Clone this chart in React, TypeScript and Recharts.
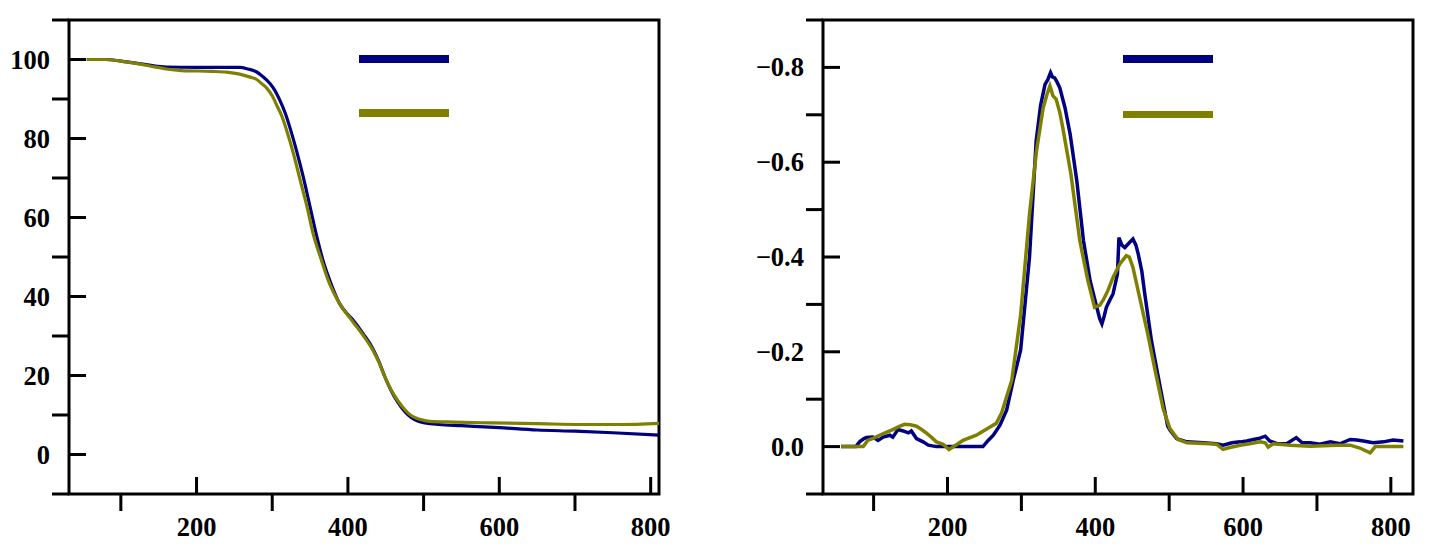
import React from 'react';
import { LineChart, Line, XAxis, YAxis, ReferenceArea, Legend } from 'recharts';

// TGA: temperature (°C) vs remaining mass (%)
const tgaBlue: [number, number][] = [
  [55, 100], [80, 100], [100, 99.6], [120, 99.1], [140, 98.5], [160, 98.1], [200, 98], [240, 98],
  [257, 98], [268, 97.6], [279, 96.9], [288, 95.6], [297, 93.9], [304, 92], [310, 89.7], [317, 86.5],
  [323, 83], [332, 77], [341, 70.3], [350, 62.7], [359, 55.1], [367, 49.2], [376, 44.1], [389, 38.2],
  [400, 35.4], [407, 34], [420, 30.6], [433, 26.8], [441, 23.5], [449, 19.6], [457, 16.2], [466, 13.2],
  [475, 10.9], [484, 9.3], [493, 8.4], [502, 8], [520, 7.6], [550, 7.3], [600, 6.8], [650, 6.2],
  [700, 5.9], [750, 5.5], [811, 4.9],
];

const tgaOlive: [number, number][] = [
  [55, 100], [80, 100], [100, 99.6], [120, 99], [140, 98.3], [160, 97.6], [180, 97.2], [220, 97],
  [240, 96.8], [257, 96.3], [270, 95.6], [279, 95], [286, 93.9], [293, 92.7], [300, 90.8], [306, 88.4],
  [313, 85.5], [319, 82.1], [328, 76.2], [337, 69.4], [346, 62.7], [354, 55.9], [365, 49.2], [374, 44.1],
  [389, 38.2], [407, 33.5], [420, 30.2], [433, 26.4], [441, 23.3], [449, 19.6], [457, 16.4], [466, 13.6],
  [475, 11.4], [484, 9.8], [495, 8.9], [508, 8.4], [540, 8.2], [590, 8], [650, 7.8], [709, 7.6],
  [760, 7.6], [811, 7.9],
];

// DTG: temperature (°C) vs mass loss rate
const dtgBlue: [number, number][] = [
  [56, 0], [76, 0], [81, -0.01], [86, -0.016], [90, -0.019], [99, -0.02], [106, -0.013], [113, -0.02],
  [122, -0.024], [126, -0.02], [133, -0.036], [140, -0.033], [147, -0.029], [151, -0.033], [158, -0.017],
  [167, -0.01], [174, -0.003], [185, 0], [248, 0], [255, -0.013], [262, -0.024], [271, -0.045],
  [280, -0.077], [289, -0.14], [299, -0.204], [311, -0.4], [320, -0.645], [326, -0.72], [332, -0.764],
  [336, -0.775], [339.5, -0.789], [342, -0.78], [345, -0.778], [348, -0.77], [352, -0.757], [359, -0.715],
  [366, -0.659], [375, -0.561], [384, -0.435], [393, -0.35], [402, -0.294], [406, -0.27], [409, -0.259],
  [412, -0.275], [415, -0.294], [420, -0.31], [424, -0.322], [430, -0.364], [432, -0.441], [436, -0.425],
  [440, -0.42], [446, -0.43], [451, -0.438], [455, -0.425], [458, -0.407], [463, -0.37], [467, -0.322],
  [476, -0.224], [480, -0.19], [489, -0.116], [498, -0.043], [501, -0.035], [510, -0.017], [524, -0.01],
  [546, -0.008], [564, -0.006], [573, -0.003], [585, -0.008], [596, -0.01], [605, -0.012], [614, -0.015],
  [621, -0.017], [630, -0.022], [636, -0.012], [646, -0.006], [659, -0.006], [672, -0.019], [680, -0.008],
  [691, -0.008], [704, -0.005], [718, -0.01], [731, -0.006], [745, -0.015], [754, -0.014], [763, -0.012],
  [776, -0.008], [790, -0.01], [803, -0.014], [817, -0.012],
];

const dtgOlive: [number, number][] = [
  [56, 0], [86, 0], [92, -0.013], [100, -0.018], [108, -0.024], [117, -0.03], [126, -0.036], [134, -0.042],
  [142, -0.047], [150, -0.046], [158, -0.043], [165, -0.036], [172, -0.028], [178, -0.02], [185, -0.01],
  [194, -0.005], [202, 0.006], [212, -0.004], [221, -0.013], [239, -0.024], [257, -0.041], [266, -0.049],
  [273, -0.07], [280, -0.105], [287, -0.14], [299, -0.278], [311, -0.491], [320.5, -0.624], [329.5, -0.715],
  [335, -0.745], [338.6, -0.761], [342.7, -0.74], [347, -0.733], [352, -0.705], [356, -0.673], [367, -0.575],
  [379, -0.435], [390, -0.35], [399, -0.294], [406, -0.298], [411, -0.31], [417, -0.329], [424, -0.357],
  [433, -0.385], [442, -0.403], [446, -0.4], [451, -0.378], [460, -0.315], [471, -0.238], [480, -0.168],
  [492, -0.079], [501, -0.038], [512, -0.015], [524, -0.008], [555, -0.006], [564, -0.005], [573, 0.006],
  [582, 0.002], [596, -0.003], [609, -0.006], [623, -0.01], [630, -0.008], [634, 0.001], [641, -0.006],
  [664, -0.003], [691, -0.001], [727, -0.003], [745, -0.003], [758, 0.003], [772, 0.013], [779, 0], [817, 0],
];

const tempTicks = [100, 200, 300, 400, 500, 600, 700, 800];
const tgaTicks = [-10, 0, 10, 20, 30, 40, 50, 60, 70, 80, 90, 100, 110];
const dtgTicks = [-0.9, -0.8, -0.7, -0.6, -0.5, -0.4, -0.3, -0.2, -0.1, 0, 0.1];

const NAVY = '#000080';
const OLIVE = '#808000';
const FONT = '"Liberation Serif", "Times New Roman", serif';
const TICK_LEN = 17;
const FONT_SIZE = 26.5;

const toRows = (pts: [number, number][]) => pts.map(([t, v]) => ({ t, v }));

// major ticks point inward with a label, minor ticks point outward
const XTick = (props: any) => {
  const { x, y, payload } = props;
  const v = payload.value;
  const major = v % 200 === 0;
  return (
    <g>
      <line x1={x} x2={x} y1={y} y2={major ? y - TICK_LEN : y + TICK_LEN} stroke="#000" strokeWidth={3} />
      {major && (
        <text x={x} y={y + 41.5} textAnchor="middle" fontFamily={FONT} fontWeight="bold" fontSize={FONT_SIZE} fill="#000">
          {v}
        </text>
      )}
    </g>
  );
};

const makeYTick = (isMajor: (v: number) => boolean, fmt: (v: number) => string) => (props: any) => {
  const { x, y, payload } = props;
  const v = payload.value;
  const major = isMajor(v);
  return (
    <g>
      <line x1={x} x2={major ? x + TICK_LEN : x - TICK_LEN} y1={y} y2={y} stroke="#000" strokeWidth={3} />
      {major && (
        <text x={x - 19} y={y + 9} textAnchor="end" fontFamily={FONT} fontWeight="bold" fontSize={FONT_SIZE} fill="#000">
          {fmt(v)}
        </text>
      )}
    </g>
  );
};

const TgaYTick = makeYTick((v) => v >= 0 && v <= 100 && v % 20 === 0, (v) => String(v));
const DtgYTick = makeYTick(
  (v) => v <= 0 && v >= -0.8 && Math.round(v * 10) % 2 === 0,
  (v) => (Math.abs(v) < 1e-9 ? '0.0' : '\u2212' + Math.abs(v).toFixed(1))
);

const SwatchLegend = ({ payload, gap }: { payload?: any[]; gap: number }) => (
  <div>
    {(payload || []).map((entry, i) => (
      <div key={i} style={{ width: 90, height: 7.5, background: entry.color, marginTop: i ? gap : 0 }} />
    ))}
  </div>
);

const TgaChart = () => (
  <LineChart width={700} height={548} margin={{ top: 20, right: 41, bottom: 14, left: 0 }}>
    <XAxis
      dataKey="t"
      type="number"
      domain={[31.5, 811]}
      ticks={tempTicks}
      interval={0}
      height={40}
      axisLine={false}
      tickLine={false}
      tickSize={0}
      tickMargin={0}
      tick={<XTick />}
    />
    <YAxis
      type="number"
      domain={[-10, 110]}
      ticks={tgaTicks}
      interval={0}
      width={69}
      axisLine={false}
      tickLine={false}
      tickSize={0}
      tickMargin={0}
      tick={<TgaYTick />}
    />
    <Line data={toRows(tgaBlue)} dataKey="v" name="A" type="monotone" stroke={NAVY} strokeWidth={3.2} dot={false} isAnimationActive={false} />
    <Line data={toRows(tgaOlive)} dataKey="v" name="B" type="monotone" stroke={OLIVE} strokeWidth={3.2} dot={false} isAnimationActive={false} />
    <ReferenceArea x1={31.5} x2={811} y1={-10} y2={110} fill="none" stroke="#000" strokeWidth={3} />
    <Legend
      layout="vertical"
      align="center"
      verticalAlign="middle"
      wrapperStyle={{ left: 359, top: 55, width: 90 }}
      content={(p: any) => <SwatchLegend payload={p.payload} gap={46.6} />}
    />
  </LineChart>
);

const DtgChart = () => (
  <LineChart width={700} height={548} margin={{ top: 20, right: 17, bottom: 14, left: 0 }}>
    <XAxis
      dataKey="t"
      type="number"
      domain={[31.5, 830]}
      ticks={tempTicks}
      interval={0}
      height={40}
      axisLine={false}
      tickLine={false}
      tickSize={0}
      tickMargin={0}
      tick={<XTick />}
    />
    <YAxis
      type="number"
      domain={[-0.9, 0.1]}
      reversed
      ticks={dtgTicks}
      interval={0}
      width={93}
      axisLine={false}
      tickLine={false}
      tickSize={0}
      tickMargin={0}
      tick={<DtgYTick />}
    />
    <Line data={toRows(dtgBlue)} dataKey="v" name="A" type="linear" stroke={NAVY} strokeWidth={3.5} dot={false} isAnimationActive={false} />
    <Line data={toRows(dtgOlive)} dataKey="v" name="B" type="linear" stroke={OLIVE} strokeWidth={3.5} dot={false} isAnimationActive={false} />
    <ReferenceArea x1={31.5} x2={830} y1={-0.9} y2={0.1} fill="none" stroke="#000" strokeWidth={3} />
    <Legend
      layout="vertical"
      align="center"
      verticalAlign="middle"
      wrapperStyle={{ left: 393, top: 55, width: 90 }}
      content={(p: any) => <SwatchLegend payload={p.payload} gap={48.3} />}
    />
  </LineChart>
);

export default function App() {
  return (
    <div style={{ position: 'absolute', left: 0, top: 0, width: 1430, height: 548, background: '#fff' }}>
      <div style={{ position: 'absolute', left: 0, top: 0 }}>
        <TgaChart />
      </div>
      <div style={{ position: 'absolute', left: 730, top: 0 }}>
        <DtgChart />
      </div>
    </div>
  );
}
